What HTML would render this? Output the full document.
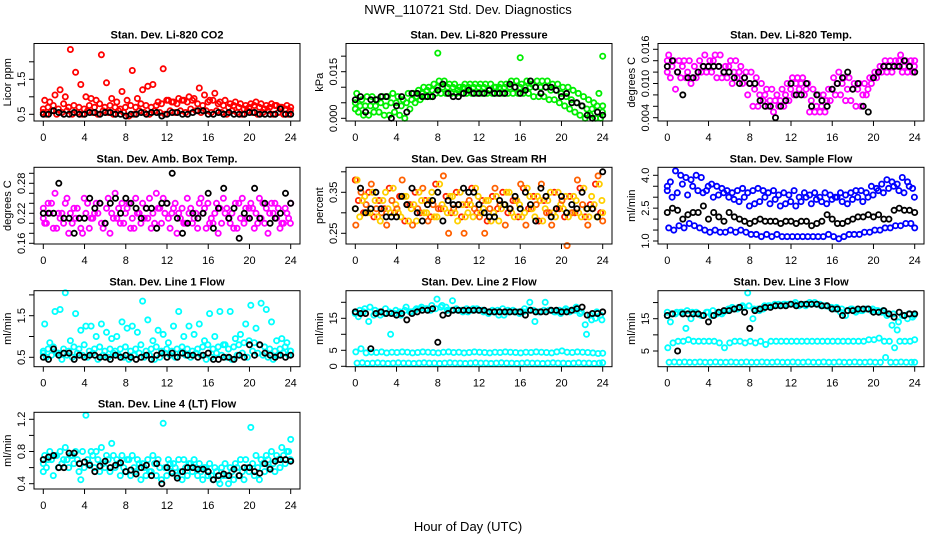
<!DOCTYPE html>
<html><head><meta charset="utf-8"><title>NWR_110721 Std. Dev. Diagnostics</title>
<style>
html,body{margin:0;padding:0;background:#fff;}
svg{display:block;font-family:"Liberation Sans",sans-serif;}
</style></head>
<body>
<svg id="chart" width="936" height="540" viewBox="0 0 936 540" xmlns="http://www.w3.org/2000/svg">
<text x="468" y="14" text-anchor="middle" font-size="13">NWR_110721  Std. Dev. Diagnostics</text>
<text x="468" y="531" text-anchor="middle" font-size="13">Hour of Day (UTC)</text>
</svg>
<script>
// x-axis ticks (hours)
const xTicks = [0,4,8,12,16,20,24];

// Panel 1: CO2 (red)
const co2Low = [0.55,0.5,0.6,0.5,0.55,0.6,0.5,0.55,0.5,0.6,0.55,0.5,0.6,0.55,0.5,0.6,0.55,0.45,0.5,0.6,0.55,0.5,0.6,0.55,0.5,0.6,0.55,0.6,0.55,0.65,0.6,0.55,0.6,0.55,0.6,0.55,0.5,0.6,0.55,0.5,0.6,0.55,0.5,0.55,0.6,0.5,0.55,0.5,0.5];
const co2Mid = [0.65,0.7,0.75,0.65,0.8,0.7,0.75,0.7,0.65,0.75,0.7,0.8,0.7,0.75,0.7,0.65,0.7,0.75,0.7,0.8,0.75,0.7,0.75,0.8,0.9,0.85,0.8,0.9,0.85,0.9,0.8,0.75,0.85,0.9,0.8,0.75,0.7,0.75,0.7,0.65,0.7,0.75,0.7,0.65,0.7,0.75,0.7,0.65,0.6];
const co2High = [0.9,0.85,1.05,1.2,1.0,2.35,1.7,1.35,1.0,0.95,0.9,2.2,1.4,0.95,0.85,1.15,0.9,1.75,0.95,1.2,1.3,1.35,0.85,1.8,0.9,0.85,0.95,0.9,1.0,0.95,1.25,1.05,0.9,1.1,0.85,0.9,0.8,0.85,0.8,0.75,0.8,0.85,0.8,0.75,0.8,0.75,0.7,0.75,0.7];
const co2Black = [0.5,0.5,0.6,0.55,0.5,0.5,0.55,0.5,0.5,0.55,0.55,0.5,0.55,0.55,0.5,0.5,0.45,0.5,0.5,0.55,0.5,0.55,0.55,0.45,0.5,0.55,0.55,0.5,0.5,0.55,0.6,0.6,0.5,0.5,0.55,0.5,0.55,0.5,0.5,0.5,0.55,0.55,0.5,0.5,0.5,0.5,0.65,0.5,0.5];
const co2Ticks = [0.5,1.0,1.5,2.0];
const co2Labels = ["0.5","","1.5",""];

// Panel 2: Pressure (green)
const presLow = [0.003,0.002,0.001,0.001,0.002,0.002,0.001,0.001,0.002,0.001,0.0,0.003,0.005,0.006,0.007,0.007,0.008,0.008,0.008,0.008,0.008,0.008,0.008,0.008,0.008,0.008,0.008,0.008,0.008,0.008,0.008,0.008,0.008,0.008,0.008,0.007,0.007,0.007,0.006,0.006,0.005,0.004,0.003,0.002,0.001,0.0,0.001,0.0,0.0];
const presMid = [0.005,0.004,0.004,0.004,0.004,0.005,0.004,0.005,0.005,0.004,0.005,0.006,0.007,0.008,0.009,0.009,0.010,0.010,0.010,0.010,0.009,0.010,0.010,0.010,0.010,0.010,0.009,0.010,0.010,0.010,0.010,0.010,0.010,0.010,0.010,0.010,0.010,0.010,0.009,0.009,0.008,0.007,0.006,0.005,0.004,0.003,0.003,0.004,0.002];
const presHigh = [0.008,0.006,0.007,0.007,0.006,0.007,0.007,0.008,0.007,0.006,0.008,0.008,0.009,0.010,0.010,0.011,0.012,0.012,0.011,0.011,0.010,0.011,0.011,0.011,0.011,0.011,0.011,0.010,0.011,0.011,0.012,0.012,0.011,0.012,0.011,0.012,0.012,0.012,0.011,0.011,0.010,0.010,0.009,0.008,0.007,0.006,0.005,0.008,0.004];
const presOutHours = [8,16,24];
const presOutValues = [0.021,0.0195,0.020];
const presBlack = [0.006,0.007,0.002,0.006,0.006,0.007,0.007,0.000,0.004,0.007,0.002,0.008,0.008,0.007,0.007,0.007,0.009,0.011,0.008,0.007,0.007,0.008,0.009,0.008,0.008,0.008,0.009,0.008,0.008,0.008,0.011,0.010,0.008,0.009,0.012,0.010,0.008,0.010,0.010,0.009,0.007,0.008,0.005,0.005,0.004,0.001,0.000,0.002,0.001];
const presTicks = [0,0.005,0.010,0.015,0.020];
const presLabels = ["0.000","","","0.015",""];

// Panel 3: Li-820 Temp (magenta)
const tempLo = [0.012,0.011,0.009,0.011,0.011,0.010,0.011,0.012,0.012,0.012,0.011,0.011,0.011,0.010,0.011,0.010,0.008,0.006,0.006,0.007,0.006,0.005,0.006,0.006,0.007,0.008,0.009,0.008,0.005,0.005,0.005,0.005,0.007,0.008,0.008,0.007,0.007,0.006,0.006,0.008,0.010,0.011,0.012,0.012,0.012,0.013,0.012,0.012,0.012];
const tempMid = [0.014,0.013,0.012,0.013,0.012,0.011,0.012,0.013,0.013,0.014,0.013,0.012,0.013,0.012,0.012,0.011,0.010,0.009,0.008,0.008,0.007,0.007,0.007,0.008,0.009,0.010,0.010,0.009,0.007,0.006,0.006,0.007,0.009,0.010,0.010,0.009,0.009,0.009,0.008,0.009,0.011,0.012,0.013,0.013,0.013,0.014,0.013,0.013,0.013];
const tempHi = [0.015,0.014,0.014,0.014,0.014,0.013,0.014,0.015,0.014,0.015,0.015,0.013,0.014,0.014,0.013,0.012,0.012,0.011,0.010,0.009,0.009,0.008,0.009,0.010,0.011,0.011,0.011,0.010,0.009,0.008,0.008,0.009,0.011,0.012,0.011,0.011,0.010,0.010,0.010,0.011,0.012,0.013,0.014,0.014,0.014,0.015,0.014,0.014,0.014];
const tempBlack = [0.013,0.014,0.012,0.008,0.011,0.011,0.012,0.013,0.013,0.013,0.013,0.012,0.012,0.011,0.010,0.011,0.010,0.010,0.007,0.006,0.006,0.004,0.006,0.007,0.010,0.008,0.008,0.010,0.006,0.008,0.007,0.006,0.009,0.010,0.011,0.012,0.009,0.010,0.006,0.005,0.011,0.012,0.013,0.013,0.013,0.013,0.014,0.013,0.012];
const tempTicks = [0.004,0.006,0.008,0.010,0.012,0.014,0.016];
const tempLabels = ["0.004","","","0.010","","","0.016"];

// Panel 4: Amb. Box Temp (magenta)
const boxA = [0.23,0.2,0.24,0.19,0.22,0.25,0.2,0.23,0.18,0.24,0.21,0.22,0.19,0.25,0.21,0.23,0.2,0.24,0.19,0.22,0.21,0.25,0.2,0.23,0.22,0.19,0.24,0.21,0.2,0.23,0.22,0.25,0.19,0.21,0.24,0.2,0.23,0.22,0.19,0.25,0.21,0.23,0.2,0.24,0.18,0.22,0.23,0.2,0.21];
const boxB = [0.21,0.24,0.19,0.22,0.2,0.18,0.23,0.21,0.25,0.19,0.22,0.24,0.2,0.18,0.26,0.2,0.22,0.19,0.25,0.2,0.23,0.19,0.26,0.2,0.24,0.22,0.18,0.23,0.25,0.2,0.19,0.22,0.24,0.2,0.18,0.25,0.21,0.19,0.24,0.2,0.23,0.19,0.25,0.2,0.22,0.24,0.19,0.23,0.2];
const boxC = [0.2,0.22,0.26,0.21,0.24,0.22,0.21,0.19,0.22,0.21,0.24,0.2,0.23,0.22,0.21,0.24,0.23,0.21,0.22,0.24,0.21,0.22,0.23,0.25,0.21,0.23,0.22,0.2,0.22,0.21,0.24,0.23,0.2,0.22,0.23,0.22,0.2,0.24,0.21,0.23,0.24,0.22,0.21,0.23,0.24,0.21,0.2,0.22,0.24];
const boxBlack = [0.22,0.22,0.22,0.28,0.21,0.21,0.18,0.21,0.21,0.25,0.23,0.24,0.2,0.24,0.25,0.22,0.25,0.24,0.23,0.21,0.23,0.23,0.19,0.24,0.24,0.3,0.21,0.18,0.2,0.22,0.21,0.22,0.26,0.19,0.23,0.27,0.21,0.23,0.17,0.22,0.21,0.27,0.21,0.24,0.2,0.21,0.22,0.26,0.24];
const boxTicks = [0.16,0.18,0.20,0.22,0.24,0.26,0.28,0.30];
const boxLabels = ["0.16","","","0.22","","","0.28",""];

// Panel 5: Gas Stream RH (red / yellow)
const rhA = [0.38,0.33,0.3,0.35,0.29,0.33,0.31,0.36,0.3,0.34,0.28,0.32,0.35,0.3,0.33,0.29,0.37,0.31,0.34,0.3,0.35,0.29,0.32,0.36,0.3,0.33,0.28,0.34,0.31,0.35,0.3,0.33,0.29,0.36,0.31,0.34,0.28,0.33,0.3,0.35,0.31,0.29,0.34,0.3,0.36,0.29,0.32,0.37,0.3];
const rhB = [0.31,0.29,0.34,0.3,0.33,0.28,0.35,0.3,0.32,0.29,0.34,0.31,0.28,0.33,0.3,0.35,0.29,0.32,0.3,0.34,0.28,0.32,0.3,0.29,0.34,0.31,0.33,0.3,0.28,0.32,0.35,0.29,0.32,0.3,0.34,0.29,0.33,0.31,0.35,0.29,0.32,0.34,0.3,0.33,0.29,0.31,0.34,0.29,0.33];
const rhC = [0.27,0.35,0.32,0.37,0.31,0.3,0.27,0.33,0.31,0.38,0.32,0.27,0.31,0.36,0.28,0.32,0.31,0.39,0.25,0.31,0.32,0.25,0.33,0.31,0.29,0.25,0.31,0.36,0.32,0.27,0.31,0.33,0.37,0.27,0.31,0.32,0.37,0.3,0.27,0.31,0.33,0.22,0.3,0.38,0.32,0.27,0.31,0.39,0.28];
const rhBlack = [0.31,0.36,0.3,0.31,0.35,0.31,0.29,0.29,0.29,0.34,0.32,0.36,0.3,0.28,0.32,0.33,0.35,0.28,0.33,0.32,0.32,0.36,0.35,0.35,0.32,0.3,0.29,0.29,0.33,0.32,0.31,0.34,0.31,0.35,0.32,0.28,0.36,0.34,0.29,0.31,0.34,0.3,0.32,0.31,0.35,0.31,0.31,0.29,0.4];
const rhTicks = [0.25,0.30,0.35,0.40];
const rhLabels = ["0.25","","0.35",""];

// Panel 6: Sample Flow (blue)
const sfUp = [3.3,3.7,4.2,4.0,3.9,3.8,4.0,3.9,3.3,3.6,3.5,3.4,3.3,3.2,3.3,3.4,3.2,3.3,3.4,3.3,3.2,3.3,3.1,3.2,3.1,3.3,3.0,3.2,3.1,3.2,3.0,3.2,3.1,3.0,3.2,3.1,3.2,3.3,3.3,3.2,3.5,3.4,3.6,3.8,3.7,3.6,3.9,3.7,3.4];
const sfUp2 = [3.5,3.0,3.2,3.6,3.1,3.5,3.3,3.2,3.5,3.0,3.1,3.2,3.0,2.9,2.8,3.0,2.6,2.7,2.8,3.0,2.7,2.9,2.6,2.7,2.8,2.6,2.8,3.0,2.7,2.9,2.8,2.7,2.9,3.0,2.8,2.7,2.9,3.0,2.8,3.0,3.1,3.3,3.2,3.4,3.5,3.3,3.2,3.5,3.0];
const sfLow = [1.6,1.5,1.7,1.6,1.8,1.7,1.6,1.5,1.4,1.5,1.4,1.4,1.5,1.4,1.5,1.4,1.3,1.3,1.2,1.3,1.2,1.3,1.2,1.2,1.2,1.2,1.2,1.2,1.2,1.2,1.2,1.3,1.2,1.1,1.2,1.3,1.3,1.3,1.4,1.4,1.5,1.5,1.6,1.6,1.7,1.7,1.8,1.8,1.6];
const sfBlack = [2.3,2.5,2.4,2.0,2.2,2.3,2.3,2.6,2.0,2.3,2.1,1.9,2.3,2.1,2.0,1.9,1.8,1.9,2.0,1.9,1.9,1.9,1.8,1.9,1.9,1.8,1.9,1.9,1.7,1.8,1.9,2.2,2.0,1.8,1.8,1.9,2.0,2.1,2.1,2.2,2.1,2.2,2.0,2.0,2.4,2.5,2.4,2.4,2.3];
const sfTicks = [1.0,1.5,2.0,2.5,3.0,3.5,4.0];
const sfLabels = ["1.0","","","2.5","","","4.0"];

// Panel 7: Line 1 Flow (cyan)
const l1Lo = [0.6,0.5,0.55,0.6,0.45,0.55,0.5,0.6,0.55,0.5,0.6,0.45,0.55,0.5,0.6,0.55,0.5,0.45,0.55,0.6,0.5,0.55,0.45,0.5,0.6,0.55,0.5,0.6,0.55,0.5,0.6,0.55,0.45,0.5,0.6,0.55,0.5,0.45,0.55,0.6,0.5,0.65,0.6,0.55,0.5,0.45,0.55,0.6,0.55];
const l1Mid = [0.65,0.7,0.75,0.6,0.7,0.65,0.75,0.7,0.8,0.65,0.7,0.75,0.65,0.7,0.65,0.7,0.75,0.65,0.7,0.8,0.65,0.7,0.75,0.65,0.7,0.65,0.7,0.75,0.7,0.65,0.7,0.75,0.8,0.7,0.75,0.8,0.7,0.75,0.8,0.85,0.9,0.85,0.8,0.75,0.7,0.65,0.7,0.75,0.65];
const l1Hi = [1.3,0.85,1.6,1.65,2.05,0.9,1.55,1.15,1.25,1.25,1.0,1.3,1.1,0.95,1.0,1.35,1.2,1.25,1.1,1.85,1.4,0.9,1.15,1.05,0.85,1.25,1.6,1.0,1.25,1.05,1.3,0.9,1.55,1.0,1.6,0.8,1.6,0.95,1.05,1.3,1.75,1.2,1.8,1.65,1.35,0.9,0.95,0.85,0.65];
const l1Black = [0.5,0.45,0.7,0.55,0.6,0.6,0.45,0.55,0.5,0.55,0.55,0.5,0.5,0.45,0.55,0.5,0.55,0.5,0.45,0.5,0.55,0.45,0.55,0.6,0.5,0.6,0.5,0.6,0.55,0.55,0.5,0.55,0.6,0.45,0.45,0.5,0.5,0.45,0.55,0.5,0.8,0.55,0.8,0.6,0.55,0.5,0.55,0.5,0.55];
const l1Ticks = [0.5,1.0,1.5,2.0];
const l1Labels = ["0.5","","1.5",""];

// Panel 8: Line 2 Flow (cyan)
const l2Up = [16.5,15.5,17,14,16,17,16.5,17,16.5,17,17.5,17,17.5,18,18,17.5,18,18.5,18.5,17.5,18,17.5,18,17.5,18,17.5,17,17.5,17.5,18,17.5,17.5,17,17,17.5,17.5,17,17.5,17.5,17,17.5,17.5,17,17.5,16.5,13,16,15,16];
const l2Up2 = [17,17.5,18,18.5,17.5,16,18,10,17.5,16,18.5,17,18,18.5,18,19,21,19,17.5,20.5,17.5,17,17,18,17.5,17,16.5,17,16,16,17,17,16.5,18,20,14,17,20,17.5,17,16.5,18,17.5,18.5,17,10,14.5,17,14.5];
const l2Four = [4.5,5.5,4.2,4.4,4.3,4.5,4.2,4.4,4.3,4.5,4.4,4.2,4.3,4.5,4.4,4.3,4.2,4.4,4.5,4.3,4.4,4.2,4.3,4.5,4.4,4.3,4.2,4.4,4.3,4.5,4.4,4.3,4.2,4.4,4.3,4.5,4.4,4.3,4.2,4.5,4.8,4.4,4.3,4.5,4.4,4.3,4.2,4.0,4.1];
const l2One = [1.0,1.1,0.9,1.0,1.1,1.0,0.9,1.0,1.1,1.0,1.0,0.9,1.0,1.1,1.0,1.0,0.9,1.0,1.1,1.0,1.0,0.9,1.0,1.1,1.0,1.0,0.9,1.0,1.1,1.0,1.0,0.9,1.0,1.1,1.0,1.0,0.9,1.0,1.1,1.0,1.0,0.9,1.0,1.1,1.0,1.0,0.9,1.0,1.1];
const l2Black = [17,16.5,16.5,5.5,16.5,17,16.5,16.5,16,16.5,14.5,16.5,17,17.5,17.5,18,7.5,16,16.5,17.5,17.5,17.5,17.5,17.5,17.5,17.5,17,17,17,17,17,17,17,16,17.5,17,17,17,17.5,17.5,17,17,17.5,18,18.5,16,16.5,16.5,17];
const l2Ticks = [0,5,10,15,20];
const l2Labels = ["0","5","","15",""];

// Panel 9: Line 3 Flow (cyan)
const l3Up = [17,14,16.5,17,12,15,17,16,17,16,16.5,16.5,17.5,18.5,18,19,23,15,18,18,19,19,19.5,19.5,19.5,19.5,19,19.5,20,20,19.5,19,18.5,18,17,16,18,17,17.5,18,17.5,17.5,17,16,13,11.5,16,15,15.5];
const l3Up2 = [16,16.5,17,17,17.5,17,16.5,16,17,17.5,17,17,18,18,18.5,18.5,19,18,17.5,19,19,19.5,19,19.5,19.5,20,19.5,19,19.5,19.5,19,19,18.5,18.5,18,17.5,18,17.5,17.5,18,18,17.5,17.5,16.5,16.5,14,16,16.5,16];
const l3Eight = [6,7.5,8,8,8.5,8,8,8,8,8,7.5,6,7.5,8,8,7.5,8,7.5,8,7,8,8,8,8,8,8,8,8,8,8,8,8,8,8,8,8,8,8,8,8.5,8.5,9,8,8,6,8,8,8,8.5];
const l3One = [1.5,1.6,1.5,1.6,1.5,1.5,1.6,1.5,1.5,1.6,1.5,1.5,1.6,1.5,1.5,1.6,1.5,1.5,1.6,1.5,1.5,1.6,1.5,1.5,1.6,1.5,1.5,1.6,1.5,1.5,1.6,1.5,1.5,1.6,1.5,1.5,1.6,1.5,1.5,1.6,1.5,1.5,3.0,1.5,1.5,1.6,1.5,1.5,1.5];
const l3Black = [16,16.5,5,16.5,16.5,16.5,16.5,16,14,16,17,17.5,17.5,18,18.5,17,12,17.5,18,18.5,18.5,19,19,19,19.5,19,19.5,19.5,19.5,19.5,19,19,18,18,16,17.5,17.5,18,18,18,17,17,17.5,16.5,15.5,17,16,16.5,16.5];
const l3Ticks = [5,10,15,20];
const l3Labels = ["5","","15",""];

// Panel 10: Line 4 (LT) Flow (cyan)
const l4A = [0.65,0.6,0.7,0.75,0.65,0.7,0.75,0.7,0.8,0.7,0.75,0.7,0.65,0.7,0.75,0.65,0.6,0.7,0.6,0.65,0.6,0.55,0.65,0.6,0.6,0.65,0.6,0.55,0.6,0.65,0.6,0.55,0.6,0.5,0.55,0.6,0.5,0.55,0.6,0.55,0.6,0.65,0.6,0.65,0.7,0.65,0.7,0.75,0.8];
const l4B = [0.55,0.7,0.5,0.6,0.7,0.6,0.65,0.55,0.6,0.65,0.6,0.55,0.6,0.55,0.6,0.5,0.55,0.5,0.55,0.45,0.5,0.55,0.5,0.45,0.5,0.55,0.5,0.45,0.5,0.55,0.5,0.45,0.5,0.45,0.45,0.5,0.4,0.45,0.5,0.45,0.55,0.5,0.45,0.55,0.6,0.55,0.6,0.65,0.7];
const l4C = [0.75,0.8,0.75,0.8,0.85,0.75,0.8,0.45,1.25,0.8,0.8,0.85,0.75,0.9,0.7,0.75,0.7,0.75,0.7,0.65,0.7,0.75,0.7,1.15,0.7,0.65,0.7,0.7,0.65,0.7,0.65,0.6,0.65,0.6,0.4,0.65,0.6,0.65,0.7,0.7,1.1,0.75,0.7,0.75,0.8,0.75,0.85,0.8,0.95];
const l4Black = [0.7,0.73,0.75,0.6,0.6,0.78,0.78,0.65,0.67,0.63,0.55,0.62,0.68,0.6,0.63,0.66,0.55,0.57,0.52,0.6,0.63,0.5,0.65,0.4,0.6,0.53,0.47,0.55,0.6,0.6,0.58,0.58,0.55,0.45,0.5,0.52,0.5,0.58,0.5,0.6,0.6,0.55,0.53,0.65,0.58,0.68,0.7,0.7,0.68];
const l4Ticks = [0.4,0.6,0.8,1.0,1.2];
const l4Labels = ["0.4","","0.8","","1.2"];

const NS = "http://www.w3.org/2000/svg";
const svg = document.getElementById('chart');
function mk(tag, attrs, parent){
  const e = document.createElementNS(NS, tag);
  for (const k in attrs) e.setAttribute(k, attrs[k]);
  (parent||svg).appendChild(e);
  return e;
}

const panels = [
  {col:0,row:0,name:'co2',title:'Stan. Dev. Li-820 CO2',ylab:'Licor ppm',ref:[0.5,114.3,1.5,79.3],ticks:co2Ticks,labels:co2Labels,
   series:[['#ff0000',co2Low],['#ff0000',co2Mid],['#ff0000',co2High],['#000',co2Black]]},
  {col:1,row:0,name:'pressure',title:'Stan. Dev. Li-820 Pressure',ylab:'kPa',ref:[0,118.3,0.015,71.7],ticks:presTicks,labels:presLabels,
   series:[['#00ee00',presLow],['#00ee00',presMid],['#00ee00',presHigh],['#000',presBlack]],outH:presOutHours,outV:presOutValues,outC:'#00ee00'},
  {col:2,row:0,name:'li820-temp',title:'Stan. Dev. Li-820 Temp.',ylab:'degrees C',ref:[0.004,117.7,0.016,49.3],ticks:tempTicks,labels:tempLabels,
   series:[['#ff00ff',tempLo],['#ff00ff',tempMid],['#ff00ff',tempHi],['#000',tempBlack]]},
  {col:0,row:1,name:'box-temp',title:'Stan. Dev. Amb. Box Temp.',ylab:'degrees C',ref:[0.16,243.3,0.28,183.3],ticks:boxTicks,labels:boxLabels,
   series:[['#ff00ff',boxA],['#ff00ff',boxB],['#ff00ff',boxC],['#000',boxBlack]]},
  {col:1,row:1,name:'gas-rh',title:'Stan. Dev. Gas Stream RH',ylab:'percent',ref:[0.25,233.3,0.35,192.3],ticks:rhTicks,labels:rhLabels,
   series:[['#ff2000',rhA],['#ffd000',rhB],['#ff6000',rhC],['#ffcc00',rhA],['#000',rhBlack]]},
  {col:2,row:1,name:'sample-flow',title:'Stan. Dev. Sample Flow',ylab:'ml/min',ref:[1.0,241,4.0,175.3],ticks:sfTicks,labels:sfLabels,
   series:[['#0000ff',sfUp],['#0000ff',sfUp2],['#0000ff',sfLow],['#000',sfBlack]]},
  {col:0,row:2,name:'line1-flow',title:'Stan. Dev. Line 1 Flow',ylab:'ml/min',ref:[0.5,357.3,1.5,315.7],ticks:l1Ticks,labels:l1Labels,
   series:[['#00ffff',l1Lo],['#00ffff',l1Mid],['#00ffff',l1Hi],['#000',l1Black]]},
  {col:1,row:2,name:'line2-flow',title:'Stan. Dev. Line 2 Flow',ylab:'ml/min',ref:[5,350.3,15,318.3],ticks:l2Ticks,labels:l2Labels,
   series:[['#00ffff',l2Up],['#00ffff',l2Up2],['#00ffff',l2Four],['#00ffff',l2One],['#000',l2Black]]},
  {col:2,row:2,name:'line3-flow',title:'Stan. Dev. Line 3 Flow',ylab:'ml/min',ref:[5,351,15,318.7],ticks:l3Ticks,labels:l3Labels,
   series:[['#00ffff',l3Up],['#00ffff',l3Up2],['#00ffff',l3Eight],['#00ffff',l3One],['#000',l3Black]]},
  {col:0,row:3,name:'line4-flow',title:'Stan. Dev. Line 4 (LT) Flow',ylab:'ml/min',ref:[0.4,483.7,1.2,419.3],ticks:l4Ticks,labels:l4Labels,
   series:[['#00ffff',l4A],['#00ffff',l4B],['#00ffff',l4C],['#000',l4Black]]}
];
const rowTop = [43.5,167.3,290.7,412.3];
const rowBot = [121,244,366.7,489];

panels.forEach(p=>{
  const off = 312*p.col;
  const left = 34+off, right = 300+off, top = rowTop[p.row], bot = rowBot[p.row];
  const xs = h => 43.3 + off + h*(247.4/24);
  const [v1,p1,v2,p2] = p.ref;
  const ys = v => p1 + (v - v1)*(p2 - p1)/(v2 - v1);
  const g = mk('g', {});
  
  
  const t = mk('text', {x:(left+right)/2, y:top-5, 'text-anchor':'middle','font-size':'11','font-weight':'bold'}, g);
  t.textContent = p.title;
  
  
  const nColored = p.series.filter(s=>s[0]!=='#000').length;
  let ci = 0;
  p.series.forEach((s, si)=>{
    const isBlack = s[0]==='#000';
    const sg = mk('g', {fill:'none', stroke:s[0], 'stroke-width':'1.8'}, g);
    
    
    const n = s[1].length;
    const step = 24/(n-1);
    const shift = isBlack ? 0 : (ci/nColored - 0.4)*step;
    if (!isBlack) ci++;
    s[1].forEach((v,i)=>{
      const h = Math.max(0, Math.min(24, i*step + shift));
      const c = mk('circle', {cx:xs(h).toFixed(1), cy:ys(v).toFixed(1), r:'2.6'}, sg);
      
      
    });
  });
  if (p.outH){
    const og = mk('g', {fill:'none', stroke:p.outC, 'stroke-width':'1.8'}, g);
    
    
    p.outH.forEach((h,i)=>{
      const c = mk('circle', {cx:xs(h).toFixed(1), cy:ys(p.outV[i]).toFixed(1), r:'2.6'}, og);
      
      
    });
  }
  const b = mk('rect', {x:left, y:top, width:right-left, height:bot-top, fill:'none', stroke:'#000', 'stroke-width':'1'}, g);
  
  
  const xa = mk('g', {stroke:'#000','stroke-width':'1'}, g);
  
  
  xTicks.forEach(h=>{
    mk('line', {x1:xs(h), x2:xs(h), y1:bot, y2:bot+5}, xa);
    const tl = mk('text', {x:xs(h), y:bot+20, 'text-anchor':'middle','font-size':'11',stroke:'none',fill:'#000'}, xa);
    tl.textContent = h;
    
    
  });
  const ya = mk('g', {stroke:'#000','stroke-width':'1'}, g);
  
  
  p.ticks.forEach((v,i)=>{
    const y = ys(v);
    mk('line', {x1:left-5, x2:left, y1:y, y2:y}, ya);
    if (p.labels[i]){
      const tl = mk('text', {x:0, y:0, transform:`translate(${left-9},${y}) rotate(-90)`, 'text-anchor':'middle','font-size':'11',stroke:'none',fill:'#000'}, ya);
      tl.textContent = p.labels[i];
      
      
    }
  });
  const yl = mk('text', {x:0, y:0, transform:`translate(${left-23},${(top+bot)/2}) rotate(-90)`, 'text-anchor':'middle','font-size':'11'}, g);
  yl.textContent = p.ylab;
  
  
});
</script>
</body></html>
